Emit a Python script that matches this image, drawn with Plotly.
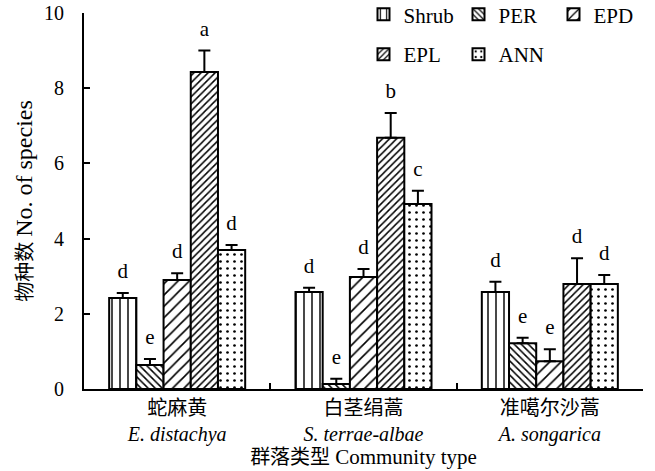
import plotly.graph_objects as go

# ---------------- data ----------------
categories_cn = ["蛇麻黄", "白茎绢蒿", "准噶尔沙蒿"]
categories_lat = ["E. distachya", "S. terrae-albae", "A. songarica"]

series_names = ["Shrub", "PER", "EPD", "EPL", "ANN"]

shrub_mean = [2.42, 2.58, 2.58]
shrub_err = [0.13, 0.11, 0.27]
shrub_sig = ["d", "d", "d"]

per_mean = [0.64, 0.13, 1.22]
per_err = [0.16, 0.14, 0.14]
per_sig = ["e", "e", "e"]

epd_mean = [2.90, 2.98, 0.74]
epd_err = [0.18, 0.21, 0.32]
epd_sig = ["d", "d", "e"]

epl_mean = [8.43, 6.68, 2.79]
epl_err = [0.57, 0.66, 0.69]
epl_sig = ["a", "b", "d"]

ann_mean = [3.70, 4.92, 2.79]
ann_err = [0.13, 0.35, 0.24]
ann_sig = ["d", "c", "d"]

y_ticks = [0, 2, 4, 6, 8, 10]

# ---------------- styling ----------------
FONT = "'Liberation Serif', 'Times New Roman', Times, 'Noto Sans CJK SC', serif"
SERIF_SPAN = "<span style='font-family:Liberation Serif;{extra}'>{txt}</span>"
patterns = {
    "Shrub": dict(shape="|", size=8, solidity=0.18),
    "PER": dict(shape="\\", size=5, solidity=0.3),
    "EPD": dict(shape="/", size=8, solidity=0.2),
    "EPL": dict(shape="/", size=5, solidity=0.3),
    "ANN": dict(shape=".", size=7, solidity=0.12),
}
legend_of = {"Shrub": "legend", "PER": "legend", "EPD": "legend",
             "EPL": "legend2", "ANN": "legend2"}

means = [shrub_mean, per_mean, epd_mean, epl_mean, ann_mean]
errs = [shrub_err, per_err, epd_err, epl_err, ann_err]
sigs = [shrub_sig, per_sig, epd_sig, epl_sig, ann_sig]

fig = go.Figure()
for name, m, e in zip(series_names, means, errs):
    p = patterns[name]
    fig.add_trace(go.Bar(
        name=name, x=categories_cn, y=m, offsetgroup=name,
        marker=dict(color="white",
                    line=dict(color="black", width=2),
                    pattern=dict(shape=p["shape"], size=p["size"], solidity=p["solidity"],
                                 fgcolor="black", bgcolor="white", fillmode="replace")),
        error_y=dict(type="data", array=e, arrayminus=[0] * len(e), symmetric=False,
                     color="black", thickness=2, width=6),
        legend=legend_of[name],
    ))

for name, m, e, s in zip(series_names, means, errs, sigs):
    fig.add_trace(go.Scatter(
        x=categories_cn, y=[a + b for a, b in zip(m, e)], text=s,
        mode="markers+text", textposition="top center", offsetgroup=name,
        marker=dict(size=14, color="rgba(0,0,0,0)"),
        textfont=dict(family=FONT, size=21, color="black"),
        showlegend=False, hoverinfo="skip", cliponaxis=False,
    ))

ticktext = [c + "<br>" + SERIF_SPAN.format(extra="font-style:italic", txt=l)
            for c, l in zip(categories_cn, categories_lat)]

fig.update_layout(
    width=655, height=471,
    margin=dict(l=84, r=12, t=13, b=82, autoexpand=False),
    paper_bgcolor="white", plot_bgcolor="white",
    barmode="group", bargap=0.27, bargroupgap=0,
    scattermode="group", scattergap=0.27,
    font=dict(family=FONT, size=20, color="black"),
    showlegend=True,
    legend=dict(orientation="h", x=0.50, xanchor="left", y=1.05,
                yanchor="top", font=dict(family=FONT, size=21), entrywidth=50,
                bgcolor="rgba(0,0,0,0)", itemclick=False),
    legend2=dict(orientation="h", x=0.50, xanchor="left", y=0.944,
                 yanchor="top", font=dict(family=FONT, size=21), entrywidth=50,
                 bgcolor="rgba(0,0,0,0)", itemclick=False),
    xaxis=dict(
        tickvals=categories_cn, ticktext=ticktext, tickson="boundaries",
        ticks="inside", ticklen=6, tickwidth=2, tickcolor="black",
        showline=True, linecolor="black", linewidth=2, showgrid=False,
        tickfont=dict(family=FONT, size=20),
        title=dict(text="群落类型 " + SERIF_SPAN.format(extra="font-size:21px",
                                                     txt="Community type"),
                   standoff=2, font=dict(family=FONT, size=20)),
    ),
    yaxis=dict(
        range=[0, 10], tickvals=y_ticks, ticks="inside", ticklen=6, tickwidth=2,
        tickcolor="black", showline=True, linecolor="black", linewidth=2,
        showgrid=False, zeroline=False, ticklabelstandoff=14,
        tickfont=dict(family=FONT, size=20),
        title=dict(text="物种数 " + SERIF_SPAN.format(extra="font-size:24px",
                                                   txt="No. of species"),
                   standoff=6, font=dict(family=FONT, size=20)),
    ),
)

fig.write_html("out.html", config={"displayModeBar": False},
               post_script="document.body.style.margin='0';")
